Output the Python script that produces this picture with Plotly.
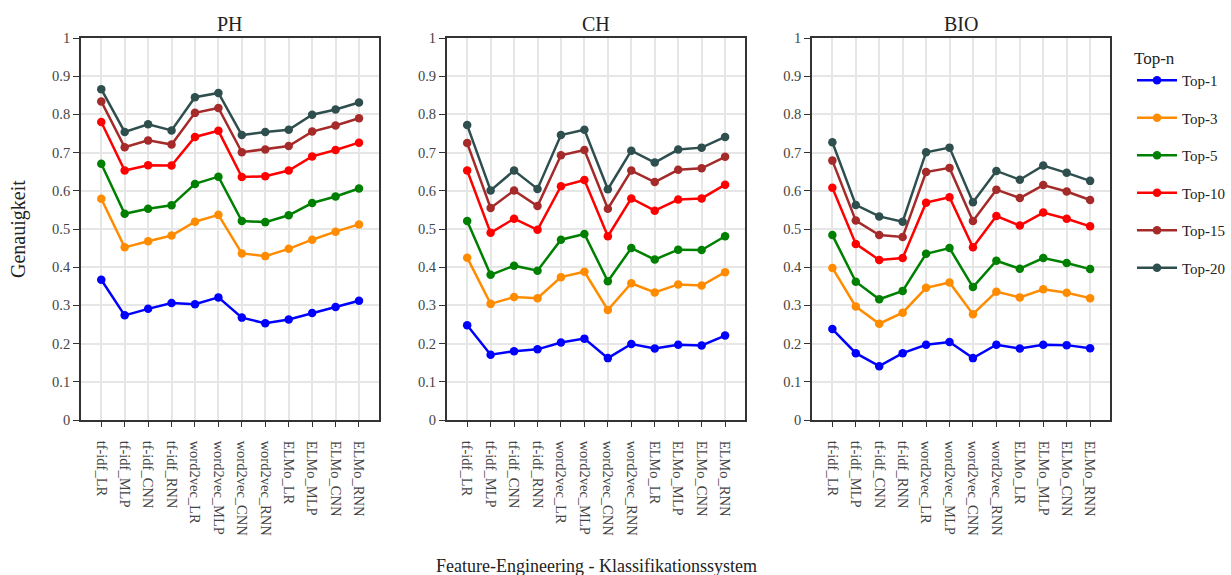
import plotly.graph_objects as go

categories = ["tf-idf_LR", "tf-idf_MLP", "tf-idf_CNN", "tf-idf_RNN",
              "word2vec_LR", "word2vec_MLP", "word2vec_CNN", "word2vec_RNN",
              "ELMo_LR", "ELMo_MLP", "ELMo_CNN", "ELMo_RNN"]

series_names = ["Top-1", "Top-3", "Top-5", "Top-10", "Top-15", "Top-20"]
colors = ["#0000ff", "#ff8c00", "#008000", "#ff0000", "#a52a2a", "#2f4f4f"]

ph_top1 = [0.367, 0.274, 0.291, 0.306, 0.303, 0.321, 0.268, 0.253, 0.263, 0.280, 0.296, 0.312]
ph_top3 = [0.579, 0.452, 0.468, 0.483, 0.519, 0.537, 0.436, 0.429, 0.448, 0.472, 0.493, 0.512]
ph_top5 = [0.671, 0.540, 0.553, 0.562, 0.618, 0.637, 0.521, 0.518, 0.536, 0.568, 0.585, 0.606]
ph_top10 = [0.780, 0.653, 0.667, 0.666, 0.741, 0.757, 0.636, 0.638, 0.653, 0.690, 0.707, 0.726]
ph_top15 = [0.834, 0.714, 0.732, 0.721, 0.804, 0.817, 0.701, 0.708, 0.717, 0.755, 0.771, 0.790]
ph_top20 = [0.866, 0.754, 0.774, 0.758, 0.845, 0.856, 0.746, 0.754, 0.760, 0.799, 0.813, 0.831]

ch_top1 = [0.248, 0.171, 0.180, 0.185, 0.203, 0.213, 0.162, 0.199, 0.187, 0.197, 0.195, 0.221]
ch_top3 = [0.425, 0.304, 0.322, 0.319, 0.374, 0.388, 0.288, 0.358, 0.334, 0.355, 0.352, 0.387]
ch_top5 = [0.521, 0.380, 0.404, 0.391, 0.472, 0.487, 0.363, 0.450, 0.420, 0.446, 0.445, 0.481]
ch_top10 = [0.653, 0.490, 0.527, 0.498, 0.612, 0.628, 0.481, 0.580, 0.548, 0.577, 0.580, 0.616]
ch_top15 = [0.725, 0.555, 0.601, 0.560, 0.693, 0.707, 0.553, 0.653, 0.623, 0.655, 0.659, 0.689]
ch_top20 = [0.772, 0.601, 0.653, 0.605, 0.746, 0.760, 0.604, 0.705, 0.674, 0.708, 0.713, 0.741]

bio_top1 = [0.238, 0.175, 0.141, 0.175, 0.197, 0.204, 0.162, 0.197, 0.187, 0.197, 0.196, 0.188]
bio_top3 = [0.398, 0.297, 0.252, 0.281, 0.346, 0.360, 0.277, 0.336, 0.321, 0.342, 0.333, 0.319]
bio_top5 = [0.484, 0.362, 0.316, 0.338, 0.435, 0.450, 0.348, 0.417, 0.396, 0.424, 0.411, 0.395]
bio_top10 = [0.608, 0.461, 0.419, 0.424, 0.569, 0.583, 0.452, 0.534, 0.509, 0.543, 0.527, 0.507]
bio_top15 = [0.679, 0.522, 0.484, 0.479, 0.649, 0.660, 0.521, 0.603, 0.581, 0.615, 0.598, 0.576]
bio_top20 = [0.727, 0.563, 0.533, 0.519, 0.701, 0.713, 0.570, 0.652, 0.629, 0.666, 0.647, 0.626]

panel_titles = ["PH", "CH", "BIO"]
panels = [
    [ph_top1, ph_top3, ph_top5, ph_top10, ph_top15, ph_top20],
    [ch_top1, ch_top3, ch_top5, ch_top10, ch_top15, ch_top20],
    [bio_top1, bio_top3, bio_top5, bio_top10, bio_top15, bio_top20],
]

y_ticks = [0, 0.1, 0.2, 0.3, 0.4, 0.5, 0.6, 0.7, 0.8, 0.9, 1]
y_tick_text = ["0", "0.1", "0.2", "0.3", "0.4", "0.5", "0.6", "0.7", "0.8", "0.9", "1"]

W, H = 1231, 575
FONT = "Liberation Serif"
x_domains = [(81 / W, 380 / W), (447.5 / W, 746.7 / W), (813.3 / W, 1112.3 / W)]
y_domain = ((575 - 420) / H, (575 - 38) / H)

fig = go.Figure()
for p, (title, data) in enumerate(zip(panel_titles, panels)):
    ax = "" if p == 0 else str(p + 1)
    for s, (name, vals, col) in enumerate(zip(series_names, data, colors)):
        fig.add_trace(go.Scatter(
            x=categories, y=vals, name=name, mode="lines+markers",
            line=dict(color=col, width=2.5), marker=dict(color=col, size=8.5),
            xaxis="x" + ax, yaxis="y" + ax,
            legendgroup=name, showlegend=(p == 0),
        ))
    axis_common = dict(showline=True, linecolor="#333", linewidth=1.5, mirror=True,
                       showgrid=True, gridcolor="#e6e6e6", gridwidth=1.5,
                       ticks="outside", tickcolor="#333", zeroline=False,
                       tickfont=dict(family=FONT, size=14.5, color="#444"))
    fig.layout["xaxis" + ax] = dict(axis_common, domain=x_domains[p], anchor="y" + ax,
                                    type="category", categoryorder="array", categoryarray=categories,
                                    range=[-0.87, 11.87], tickangle=90, ticklen=5,
                                    ticklabelstandoff=11, automargin=False)
    fig.layout["yaxis" + ax] = dict(axis_common, domain=y_domain, anchor="x" + ax,
                                    range=[0, 1], tickvals=y_ticks, ticktext=y_tick_text,
                                    ticklen=6, automargin=False)
    fig.add_annotation(text=title, x=(x_domains[p][0] + x_domains[p][1]) / 2, y=(575 - 24) / H,
                       xref="paper", yref="paper", showarrow=False, xanchor="center", yanchor="middle",
                       font=dict(family=FONT, size=20, color="#222"))

fig.add_annotation(text="Genauigkeit", x=18 / W, y=(575 - 229) / H, textangle=-90,
                   xref="paper", yref="paper", showarrow=False, xanchor="center", yanchor="middle",
                   font=dict(family=FONT, size=20, color="#222"))
fig.add_annotation(text="Feature-Engineering - Klassifikationssystem", x=597 / W, y=(575 - 566) / H,
                   xref="paper", yref="paper", showarrow=False, xanchor="center", yanchor="middle",
                   font=dict(family=FONT, size=18, color="#222"))

fig.update_layout(
    width=W, height=H, margin=dict(l=0, r=0, t=0, b=0),
    plot_bgcolor="white", paper_bgcolor="white",
    legend=dict(x=1134 / W, xanchor="left", y=(575 - 42) / H, yanchor="top",
                title=dict(text="Top-n", font=dict(family=FONT, size=17, color="#222")),
                font=dict(family=FONT, size=15, color="#222"), tracegroupgap=15,
                itemwidth=40),
)

fig.write_html("out.html", config={"displayModeBar": False},
               post_script="document.body.style.margin='0';")
